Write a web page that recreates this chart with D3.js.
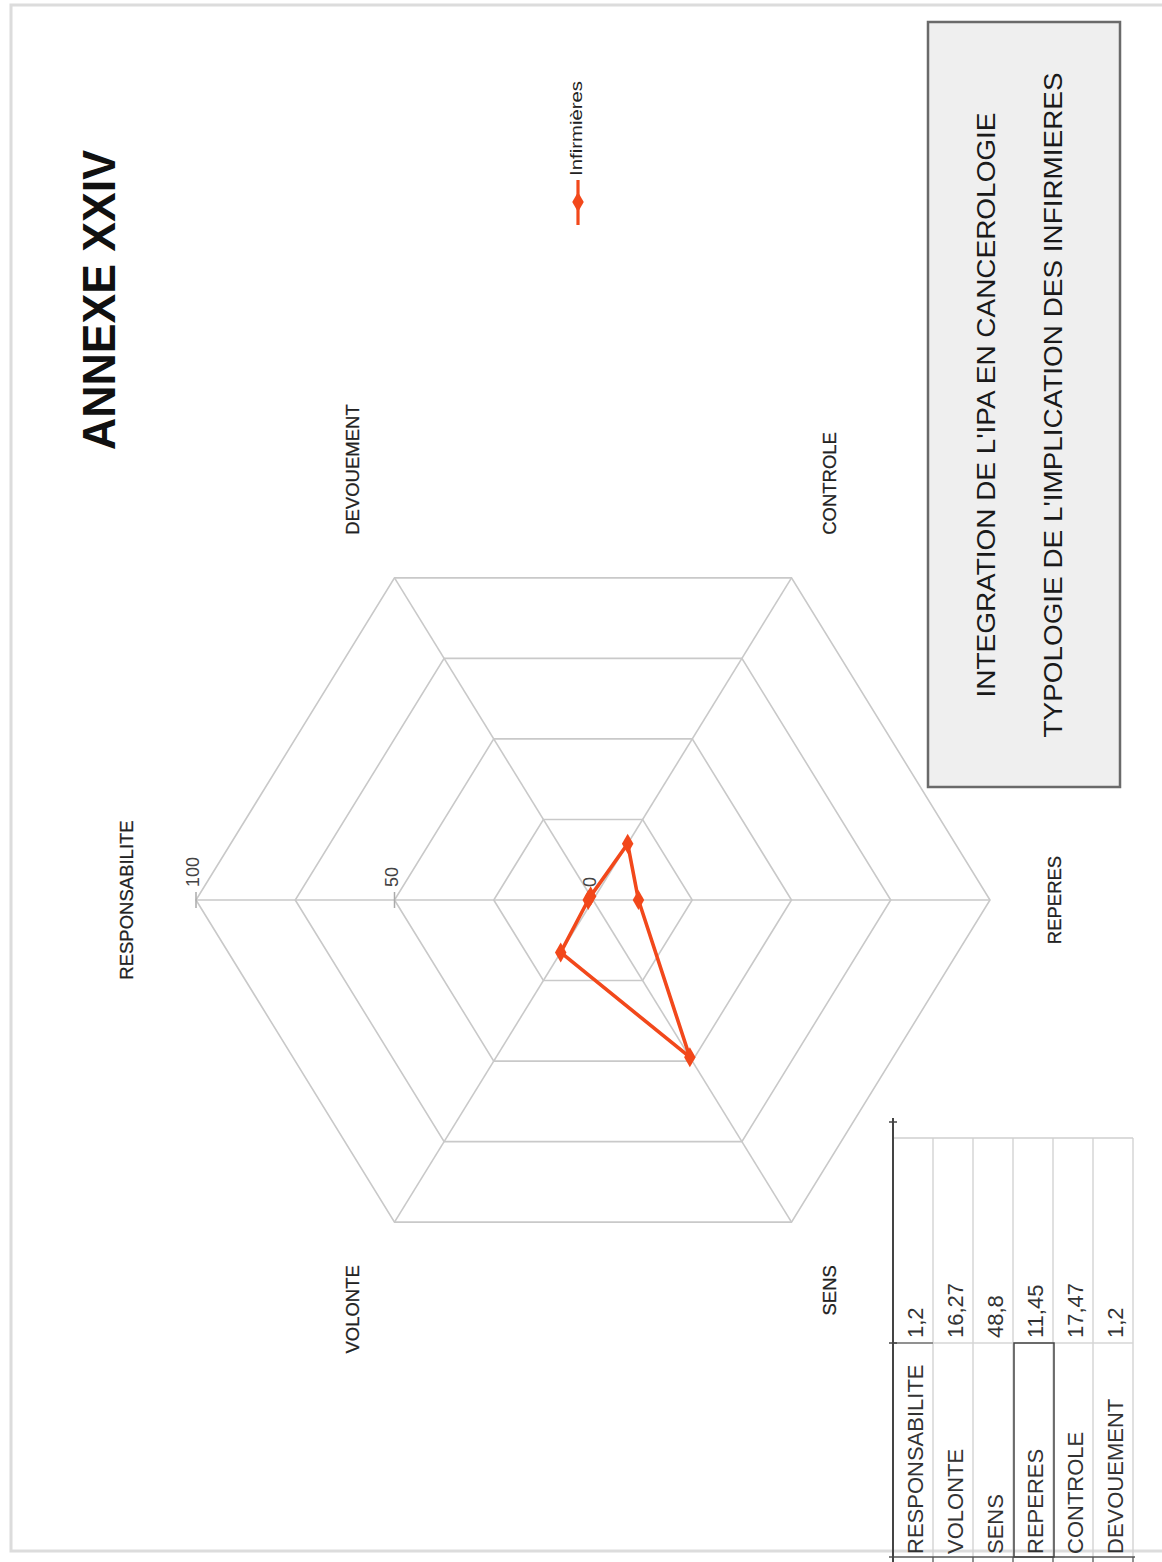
<!DOCTYPE html>
<html>
<head>
<meta charset="utf-8">
<script src="https://cdn.jsdelivr.net/npm/d3@7"></script>
<style>
  html, body { margin: 0; padding: 0; background: #fff; }
  svg { display: block; }
  text { font-family: "Liberation Sans", Arial, sans-serif; }
</style>
</head>
<body>
<svg id="chart" width="1162" height="1562"></svg>
<script>
// ---------- data ----------
const categories = ["RESPONSABILITE", "VOLONTE", "SENS", "REPERES", "CONTROLE", "DEVOUEMENT"];
const values = [1.2, 16.27, 48.8, 11.45, 17.47, 1.2];
const valueLabels = ["1,2", "16,27", "48,8", "11,45", "17,47", "1,2"];
const gridLevels = [25, 50, 75, 100];
const tickValues = [0, 50, 100];
const seriesName = "Infirmières";
const pageTitle = "ANNEXE XXIV";
const boxLines = ["INTEGRATION DE L'IPA EN CANCEROLOGIE", "TYPOLOGIE DE L'IMPLICATION DES INFIRMIERES"];

// ---------- layout ----------
const svg = d3.select("#chart");
const red = "#f2481b";
const gridColor = "#c9c9c9";
const cx = 593, cy = 900;
const rX = d3.scaleLinear().domain([0, 100]).range([0, 397]);
const rY = d3.scaleLinear().domain([0, 100]).range([0, 372]);
const angle = d3.scaleLinear().domain([0, categories.length]).range([Math.PI, Math.PI - 2 * Math.PI]);
const pt = (v, i) => [cx + rX(v) * Math.cos(angle(i)), cy + rY(v) * Math.sin(angle(i))];
const rot = (x, y) => `translate(${x},${y}) rotate(-90)`;

// page border
svg.append("rect").attr("x", 11).attr("y", 5).attr("width", 1180).attr("height", 1546)
  .attr("fill", "none").attr("stroke", "#dcdcdc").attr("stroke-width", 3);

// title
svg.append("text").attr("transform", rot(115, 300))
  .attr("text-anchor", "middle").attr("font-size", 46).attr("font-weight", "bold")
  .attr("fill", "#111").attr("textLength", 300).attr("lengthAdjust", "spacingAndGlyphs")
  .text(pageTitle);

// grid rings
const line = d3.line();
gridLevels.forEach(lv => {
  const pts = categories.map((c, i) => pt(lv, i));
  svg.append("path").attr("d", line(pts) + "Z")
    .attr("fill", "none").attr("stroke", gridColor).attr("stroke-width", 1.6);
});
// spokes
categories.forEach((c, i) => {
  const [x, y] = pt(100, i);
  svg.append("line").attr("x1", cx).attr("y1", cy).attr("x2", x).attr("y2", y)
    .attr("stroke", gridColor).attr("stroke-width", 1.6);
});

// value axis ticks + labels (along first category axis)
tickValues.forEach(t => {
  const [x, y] = pt(t, 0);
  if (t > 0) {
    svg.append("line").attr("x1", x).attr("x2", x).attr("y1", y - 8).attr("y2", y + 8)
      .attr("stroke", "#aaa").attr("stroke-width", 1.5);
  }
  svg.append("text").attr("transform", rot(x - 3, y - 13))
    .attr("text-anchor", "start").attr("dominant-baseline", "central")
    .attr("font-size", 18).attr("fill", "#444").text(t);
});

// category labels
categories.forEach((c, i) => {
  const a = angle(i);
  const [vx, vy] = pt(100, i);
  const cosA = Math.cos(a), sinA = Math.sin(a);
  let lx, ly, anchor;
  if (Math.abs(sinA) < 0.1) {
    lx = vx + (cosA < 0 ? -70 : 64); ly = vy; anchor = "middle";
  } else {
    lx = vx + (cosA < 0 ? -42 : 38);
    if (sinA < 0) { ly = vy - 43; anchor = "start"; } else { ly = vy + 43; anchor = "end"; }
  }
  svg.append("text").attr("transform", rot(lx, ly))
    .attr("text-anchor", anchor).attr("dominant-baseline", "central")
    .attr("font-size", 18.5).attr("fill", "#222")
    .attr("stroke", "#222").attr("stroke-width", 0.25).text(c);
});

// series
const seriesPts = values.map((v, i) => pt(v, i));
svg.append("path").attr("d", line(seriesPts) + "Z")
  .attr("fill", "none").attr("stroke", red).attr("stroke-width", 3.6).attr("stroke-linejoin", "round");
const diamond = d3.symbol().type(d3.symbolDiamond).size(115);
svg.selectAll(".mk").data(seriesPts).join("path")
  .attr("transform", d => `translate(${d[0]},${d[1]})`)
  .attr("d", diamond).attr("fill", red);

// legend
svg.append("line").attr("x1", 578).attr("x2", 578).attr("y1", 180).attr("y2", 225)
  .attr("stroke", red).attr("stroke-width", 3.2);
svg.append("path").attr("transform", "translate(578,202)").attr("d", diamond).attr("fill", red);
svg.append("text").attr("transform", rot(576, 176))
  .attr("text-anchor", "start").attr("dominant-baseline", "central")
  .attr("font-size", 16).attr("fill", "#222")
  .attr("textLength", 95).attr("lengthAdjust", "spacingAndGlyphs").text(seriesName);

// title box
svg.append("rect").attr("x", 928).attr("y", 22).attr("width", 192).attr("height", 765)
  .attr("fill", "#efefef").attr("stroke", "#6a6a6a").attr("stroke-width", 2.5);
const boxX = [986, 1053], boxLen = [585, 665];
boxLines.forEach((t, i) => {
  svg.append("text").attr("transform", rot(boxX[i], 405))
    .attr("text-anchor", "middle").attr("dominant-baseline", "central")
    .attr("font-size", 26).attr("fill", "#1a1a1a")
    .attr("textLength", boxLen[i]).attr("lengthAdjust", "spacingAndGlyphs").text(t);
});

// data table (rotated)
const tX0 = 893, rowW = 40, tTop = 1138, tSep = 1343, tBot = 1557;
const rows = d3.range(categories.length);
const tg = svg.append("g");
rows.forEach(i => {
  const x = tX0 + i * rowW;
  tg.append("line").attr("x1", x + rowW).attr("x2", x + rowW).attr("y1", tTop).attr("y2", tBot)
    .attr("stroke", "#cfcfcf").attr("stroke-width", 1.3);
  tg.append("line").attr("x1", x + rowW).attr("x2", x + rowW).attr("y1", tBot).attr("y2", 1562)
    .attr("stroke", "#555").attr("stroke-width", 1.3);
});
tg.append("line").attr("x1", tX0).attr("x2", tX0 + rowW * rows.length).attr("y1", tTop).attr("y2", tTop)
  .attr("stroke", "#cfcfcf").attr("stroke-width", 1.3);
tg.append("line").attr("x1", tX0).attr("x2", tX0 + rowW * rows.length).attr("y1", tSep).attr("y2", tSep)
  .attr("stroke", "#d6d6d6").attr("stroke-width", 1.3);
tg.append("line").attr("x1", tX0).attr("x2", tX0 + rowW).attr("y1", tSep).attr("y2", tSep)
  .attr("stroke", "#777").attr("stroke-width", 1.3);
tg.append("line").attr("x1", tX0 - 4).attr("x2", tX0 + rowW * rows.length + 2).attr("y1", tBot).attr("y2", tBot)
  .attr("stroke", "#555").attr("stroke-width", 1.6);
tg.append("line").attr("x1", tX0).attr("x2", tX0).attr("y1", 1118).attr("y2", 1562)
  .attr("stroke", "#444").attr("stroke-width", 2);
[1122, tSep].forEach(y => tg.append("line").attr("x1", tX0 - 4).attr("x2", tX0 + 4).attr("y1", y).attr("y2", y)
  .attr("stroke", "#444").attr("stroke-width", 1.5));
// selected cell border (REPERES)
tg.append("rect").attr("x", tX0 + 3 * rowW + 1).attr("y", tSep).attr("width", rowW).attr("height", tBot - tSep)
  .attr("fill", "none").attr("stroke", "#444").attr("stroke-width", 1.5);
rows.forEach(i => {
  const xc = tX0 + i * rowW + rowW / 2 + 2;
  tg.append("text").attr("transform", rot(xc, tBot - 3))
    .attr("text-anchor", "start").attr("dominant-baseline", "central")
    .attr("font-size", 22).attr("fill", "#333").text(categories[i]);
  tg.append("text").attr("transform", rot(xc, tSep - 5))
    .attr("text-anchor", "start").attr("dominant-baseline", "central")
    .attr("font-size", 22).attr("fill", "#333").text(valueLabels[i]);
});
</script>
</body>
</html>
